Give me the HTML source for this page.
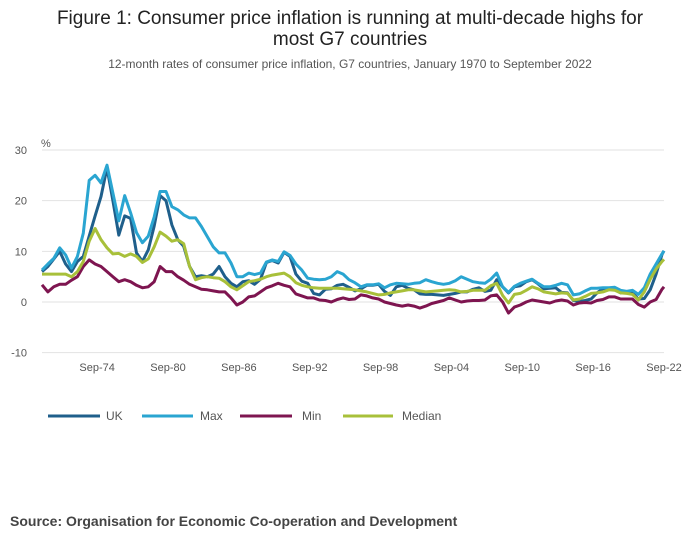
<!DOCTYPE html>
<html><head><meta charset="utf-8"><style>
body{margin:0;background:#fff;font-family:"Liberation Sans",sans-serif;}
#wrap{position:relative;width:700px;height:549px;overflow:hidden;}
</style></head><body>
<div id="wrap">
<svg id="chart" width="700" height="549">
<text x="350" y="24" text-anchor="middle" font-size="19" fill="#222">Figure 1: Consumer price inflation is running at multi-decade highs for</text>
<text x="350" y="45" text-anchor="middle" font-size="19" fill="#222">most G7 countries</text>
<text x="350" y="68" text-anchor="middle" font-size="12" fill="#555">12-month rates of consumer price inflation, G7 countries, January 1970 to September 2022</text>
<text x="41" y="147" font-size="11" fill="#555">%</text>
<g id="grid"></g><g id="xaxis"></g><g id="series"></g>
<g>
<line x1="48" y1="416" x2="100" y2="416" stroke="#1f5f8b" stroke-width="3"/>
<text x="106" y="420" font-size="12" fill="#555">UK</text>
<line x1="142" y1="416" x2="193" y2="416" stroke="#2aa5d1" stroke-width="3"/>
<text x="200" y="420" font-size="12" fill="#555">Max</text>
<line x1="240" y1="416" x2="292" y2="416" stroke="#7e1550" stroke-width="3"/>
<text x="302" y="420" font-size="12" fill="#555">Min</text>
<line x1="343" y1="416" x2="393" y2="416" stroke="#a8c03a" stroke-width="3"/>
<text x="402" y="420" font-size="12" fill="#555">Median</text>
</g>
<text x="10" y="526" font-size="14" font-weight="bold" fill="#444">Source: Organisation for Economic Co-operation and Development</text>
</svg>
</div>
<script>
const dates=[1970,1970.5,1971,1971.5,1972,1972.5,1973,1973.5,1974,1974.5,1975,1975.5,1976,1976.5,1977,1977.5,1978,1978.5,1979,1979.5,1980,1980.5,1981,1981.5,1982,1982.5,1983,1983.5,1984,1984.5,1985,1985.5,1986,1986.5,1987,1987.5,1988,1988.5,1989,1989.5,1990,1990.5,1991,1991.5,1992,1992.5,1993,1993.5,1994,1994.5,1995,1995.5,1996,1996.5,1997,1997.5,1998,1998.5,1999,1999.5,2000,2000.5,2001,2001.5,2002,2002.5,2003,2003.5,2004,2004.5,2005,2005.5,2006,2006.5,2007,2007.5,2008,2008.5,2009,2009.5,2010,2010.5,2011,2011.5,2012,2012.5,2013,2013.5,2014,2014.5,2015,2015.5,2016,2016.5,2017,2017.5,2018,2018.5,2019,2019.5,2020,2020.5,2021,2021.5,2022,2022.5,2022.67];
const maxVals=[6.3,7.5,8.6,10.7,9.3,6.7,9,13.6,24,25,23.5,27,21.5,16,21,17.6,13.7,11.7,13,16.8,21.8,21.8,18.8,18.2,17.2,16.6,16.6,14.9,12.9,10.9,9.7,9.7,7.7,5,5,5.7,5.4,5.7,7.9,8.3,8,9.9,9.2,7.5,6.3,4.7,4.5,4.4,4.5,5,6,5.5,4.4,3.8,3,3.4,3.4,3.6,2.8,3.4,3.7,3.6,3.5,3.7,3.8,4.4,4,3.7,3.5,3.7,4.2,5,4.5,4,3.8,3.7,4.5,5.7,3,1.9,3.1,3.7,4.1,4.5,3.7,3,3,3.3,3.7,3.4,1.4,1.6,2.2,2.7,2.7,2.8,2.8,2.9,2.3,2.1,2.3,1.5,2.8,5.5,7.5,9.5,10.1];
const ukVals=[6,7,8.5,10,7.5,6,8,9,13,17,20.8,26.5,20,13.2,17,16.5,9.7,8,10.3,15,21,20,15.2,12.3,11,7,5,5.2,5,5.5,7,5,3.7,3,4,4.2,3.5,4.5,7.8,8.2,7.7,9.8,9,5.5,4.1,3.7,1.7,1.4,2.5,2.6,3.3,3.5,2.9,2.2,2.6,3.3,3.3,3.5,2.1,1.3,3,3.3,2.7,2.4,1.6,1.5,1.5,1.4,1.3,1.5,1.7,2,2,2.5,2.8,2.1,2.3,4.4,3,1.8,3,3.2,4,4.4,3.6,2.6,2.7,2.8,1.9,1.8,0.3,0.1,0.3,0.6,1.8,2.6,2.7,2.4,1.8,2,1.8,0.6,0.7,2.4,5.5,9.4,10.1];
const medianVals=[5.5,5.5,5.5,5.5,5.5,5,6,8,12,14.5,12.3,10.7,9.5,9.6,9,9.5,9,7.8,8.5,10.9,13.8,13,12,12.3,11.5,7,4.4,4.8,5,4.8,4.7,4,3,2.4,3.2,4,4.2,4.5,5,5.3,5.5,5.7,5,3.8,3.3,3,2.8,2.7,2.7,2.7,2.7,2.6,2.5,2.4,2.2,2,1.7,1.4,1.5,1.8,2,2.2,2.4,2.4,2.2,2,2.1,2.2,2.3,2.4,2.3,2,2.1,2.3,2.3,2.3,3.2,3.7,1.3,-0.2,1.5,1.7,2.3,3,2.6,2,1.8,1.6,1.8,1.7,0.4,0.6,1.1,1.7,1.8,2,2.4,2.3,1.8,1.7,1.5,0.4,2,4.5,6.5,8,8.4];
const minVals=[3.4,2,3,3.5,3.5,4.3,5,7,8.3,7.5,7,6,5,4,4.4,4,3.3,2.8,3,4,7,6,6,5,4.3,3.5,3,2.5,2.4,2.2,2,2,0.8,-0.6,0,1,1.2,2,2.8,3.2,3.7,3.3,3,1.6,1.2,0.8,0.8,0.4,0.3,0,0.5,0.8,0.5,0.6,1.4,1.2,0.8,0.6,0,-0.3,-0.6,-0.8,-0.6,-0.8,-1.2,-0.8,-0.3,0,0.3,0.8,0.4,0,0.2,0.3,0.3,0.4,1.2,1.4,0,-2.2,-1,-0.6,0,0.4,0.2,0,-0.2,0.2,0.4,0.2,-0.6,-0.2,-0.1,-0.2,0.3,0.5,1,1,0.6,0.6,0.6,-0.5,-1,0,0.5,2.5,3];
const yTicks=[30,20,10,0,-10];
const xTickLabels=["Sep-74","Sep-80","Sep-86","Sep-92","Sep-98","Sep-04","Sep-10","Sep-16","Sep-22"];
const xTickYears=[1974.67,1980.67,1986.67,1992.67,1998.67,2004.67,2010.67,2016.67,2022.67];

const X0=42,X1=664,T0=1970,T1=2022.67,Y30=150,Y0=302;
const xs=t=>X0+(t-T0)/(T1-T0)*(X1-X0);
const ys=v=>Y0-(v/30)*(Y0-Y30);
const NS="http://www.w3.org/2000/svg";
function mk(tag,attrs,parent){const e=document.createElementNS(NS,tag);for(const k in attrs)e.setAttribute(k,attrs[k]);parent.appendChild(e);return e;}
const grid=document.getElementById('grid');
yTicks.forEach(v=>{
  const l=mk('line',{x1:X0,x2:X1,y1:ys(v),y2:ys(v),stroke:'#e2e2e2','stroke-width':1},grid);
  
  
  const t=mk('text',{x:27,y:ys(v)+4,'text-anchor':'end','font-size':11,fill:'#555'},grid);
  t.textContent=v;
  
  
});
const xa=document.getElementById('xaxis');
xTickLabels.forEach((s,i)=>{
  const t=mk('text',{x:xs(xTickYears[i]),y:371,'text-anchor':'middle','font-size':11,fill:'#555'},xa);
  t.textContent=s;
  
  
});
const sg=document.getElementById('series');
[[ukVals,'#1f5f8b','uk'],[maxVals,'#2aa5d1','max'],[minVals,'#7e1550','min'],[medianVals,'#a8c03a','median']].forEach(([vals,c,n])=>{
  const d=vals.map((v,i)=>(i?'L':'M')+xs(dates[i]).toFixed(1)+','+ys(v).toFixed(1)).join('');
  const p=mk('path',{d:d,fill:'none',stroke:c,'stroke-width':3,'stroke-linejoin':'round'},sg);
  
  
});
</script>
</body></html>
